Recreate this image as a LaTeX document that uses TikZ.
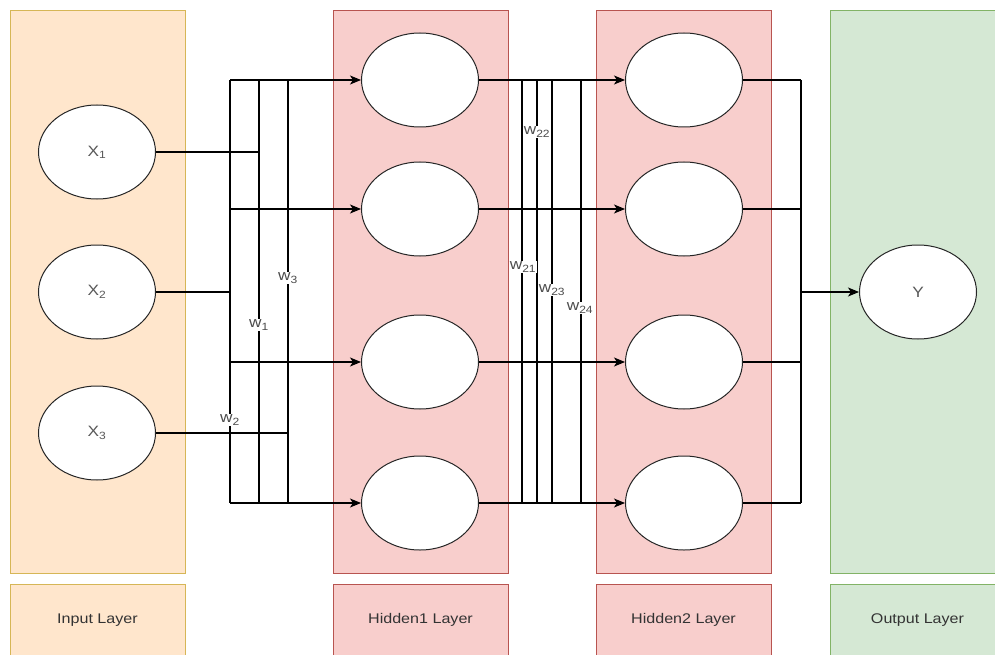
\documentclass[tikz,border=0pt]{standalone}
\usepackage{fontspec}
\setmainfont{Liberation Sans}[FakeStretch=1.15]
\usepackage{tikz}
\usetikzlibrary{shapes.geometric,arrows.meta}

\definecolor{infill}{HTML}{FFE6CC}
\definecolor{inline}{HTML}{D6B656}
\definecolor{hidfill}{HTML}{F8CECC}
\definecolor{hidline}{HTML}{B85450}
\definecolor{outfill}{HTML}{D5E8D4}
\definecolor{outline}{HTML}{82B366}

\begin{document}
\begin{tikzpicture}[
  x=1pt, y=-1pt,
  font=\fontsize{14}{16}\selectfont,
  layer/.style={draw, line width=0.8pt, minimum width=175, inner sep=0pt, text=black!80},
  inlayer/.style={layer, fill=infill, draw=inline},
  hidlayer/.style={layer, fill=hidfill, draw=hidline},
  outlayer/.style={layer, fill=outfill, draw=outline},
  neuron/.style={ellipse, draw=black!85, fill=white, line width=1pt, minimum width=117, minimum height=94, inner sep=0pt, text=black!65, font=\fontsize{15}{17}\selectfont},
  wlab/.style={fill=white, inner sep=1pt, text=black!70, font=\fontsize{15}{17}\selectfont},
  line/.style={line width=1.1pt},
  arr/.style={line, -{Stealth[length=11pt, width=9pt, inset=3pt]}}]

\useasboundingbox (0,0) rectangle (995,655);
\clip (0,0) rectangle (995,655);

% layers
\node[inlayer, minimum height=563] (inbox) at (97.5,291.5) {};
\node[hidlayer, minimum height=563] (hid1box) at (420.5,291.5) {};
\node[hidlayer, minimum height=563] (hid2box) at (683.5,291.5) {};
\node[outlayer, minimum height=563] (outbox) at (917.5,291.5) {};

\node[inlayer, minimum height=72] (inlabel) at (97.5,620) {Input Layer};
\node[hidlayer, minimum height=72] (hid1label) at (420.5,620) {Hidden1 Layer};
\node[hidlayer, minimum height=72] (hid2label) at (683.5,620) {Hidden2 Layer};
\node[outlayer, minimum height=72] (outlabel) at (917.5,620) {Output Layer};

% neurons
\node[neuron] (x1) at (97,152) {X\textsubscript{1}};
\node[neuron] (x2) at (97,292) {X\textsubscript{2}};
\node[neuron] (x3) at (97,433) {X\textsubscript{3}};

\node[neuron] (h11) at (420,80) {};
\node[neuron] (h12) at (420,209) {};
\node[neuron] (h13) at (420,362) {};
\node[neuron] (h14) at (420,503) {};

\node[neuron] (h21) at (684,80) {};
\node[neuron] (h22) at (684,209) {};
\node[neuron] (h23) at (684,362) {};
\node[neuron] (h24) at (684,503) {};

\node[neuron] (out) at (918,292) {Y};

% bus tops
\coordinate (ba) at (230,80);
\coordinate (bb) at (259,80);
\coordinate (bc) at (288,80);
\coordinate (ca) at (522,80);
\coordinate (cb) at (537,80);
\coordinate (cc) at (552,80);
\coordinate (cd) at (581,80);
\coordinate (da) at (801,80);

% input -> hidden1
\draw[line] (x1) -- (x1 -| bb);
\draw[line] (x2) -- (x2 -| ba);
\draw[line] (x3) -- (x3 -| bc);
\draw[line] (ba) -- (ba |- h14);
\draw[line] (bb) -- (bb |- h14);
\draw[line] (bc) -- (bc |- h14);
\draw[arr] (ba) -- (h11);
\draw[arr] (ba |- h12) -- (h12);
\draw[arr] (ba |- h13) -- (h13);
\draw[arr] (ba |- h14) -- (h14);

% hidden1 -> hidden2
\draw[arr] (h11) -- (h21);
\draw[arr] (h12) -- (h22);
\draw[arr] (h13) -- (h23);
\draw[arr] (h14) -- (h24);
\draw[line] (ca) -- (ca |- h14);
\draw[line] (cb) -- (cb |- h14);
\draw[line] (cc) -- (cc |- h14);
\draw[line] (cd) -- (cd |- h14);

% hidden2 -> output
\draw[line] (h21) -- (h21 -| da);
\draw[line] (h22) -- (h22 -| da);
\draw[line] (h23) -- (h23 -| da);
\draw[line] (h24) -- (h24 -| da);
\draw[line] (da) -- (da |- h24);
\draw[arr] (da |- out) -- (out);

% weights
\node[wlab] (w1) at (259,325) {w\textsubscript{1}};
\node[wlab] (w2) at (230,420) {w\textsubscript{2}};
\node[wlab] (w3) at (288,278) {w\textsubscript{3}};
\node[wlab] (w21) at (523,267) {w\textsubscript{21}};
\node[wlab] (w22) at (537,132) {w\textsubscript{22}};
\node[wlab] (w23) at (552,290) {w\textsubscript{23}};
\node[wlab] (w24) at (580,308) {w\textsubscript{24}};
\end{tikzpicture}
\end{document}
